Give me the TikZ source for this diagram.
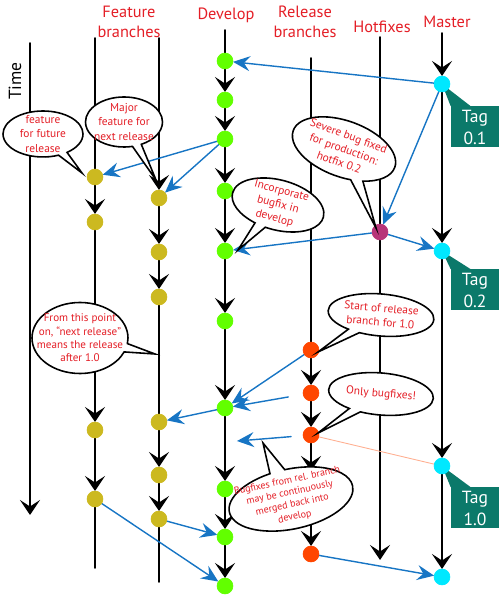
\documentclass[tikz,border=0pt]{standalone}
\usepackage{fontspec}
\setmainfont{PT Sans}
\usepackage{tkz-euclide}
\usetikzlibrary{arrows.meta,shapes.callouts,shapes.geometric}
\definecolor{DevelopClr}{rgb}{0.384,1,0}
\definecolor{FeatureClr}{rgb}{0.8,0.725,0.125}
\definecolor{ReleaseClr}{rgb}{1,0.275,0}
\definecolor{HotfixClr}{rgb}{0.718,0.204,0.475}
\definecolor{MasterClr}{rgb}{0,0.91,1}
\definecolor{MergeClr}{rgb}{0.09,0.459,0.769}
\definecolor{TagClr}{rgb}{0.043,0.475,0.416}
\definecolor{TextClr}{rgb}{0.894,0.118,0.149}
\definecolor{SalmonClr}{rgb}{1,0.686,0.569}

\begin{document}
\begin{tikzpicture}[x=.2mm,y=.2mm]
\tikzset{
  branch/.style={line width=1pt,color=black},
  commit/.style={line width=1pt,-{Stealth[length=3mm,width=4mm,inset=1.3mm]},shorten >=1.6mm},
  merge/.style={color=MergeClr,line width=.8pt,-{Stealth[length=3.4mm,width=3mm,inset=1.2mm]},shorten >=1.6mm},
  bubble/.style={ellipse callout,draw,fill=white,line width=.9pt,text=TextClr,align=center,
    inner sep=-3mm,callout pointer arc=14,font=\fontsize{6.5}{8}\selectfont},
  tag/.style={rectangle,fill=TagClr,text=white,align=center,minimum width=9.6mm,
    minimum height=8.2mm,inner sep=0pt,font=\fontsize{10}{12.5}\selectfont},
  heading/.style={text=TextClr,align=center,font=\fontsize{9.3}{11.3}\selectfont}
}
\useasboundingbox (0,0) rectangle (500,600);

\tkzDefPoints{30/557/T1,30/85/T2}
\tkzDefPoints{95/562/F0,95/423/F1,95/378/F2,95/170/F3,95/101/F4,95/32/F5}
\tkzDefPoints{159/562/G0,159/402/G1,159/348/G2,159/303/G3,159/178/G4,159/125/G5,159/81/G6,159/18/G7}
\tkzDefPoints{225/570/D0,225/539/D1,225/500/D2,225/461/D3,225/409/D4,225/349/D5,225/279/D6,
  225/192/D7,225/111/D8,225/63/D9,225/14/D10,225/158/Dm}
\tkzDefPoints{311/542/R0,311/250/R1,311/207/R2,311/165/R3,311/129/Rt,311/46/R4}
\tkzDefPoints{380/563/H0,380/368/H1,380/40/H2}
\tkzDefPoints{442/567/M0,442/516/M1,442/349/M2,442/134/M3,442/23/M4}
\tkzDefPoints{82/427/t1,156/420/t2,238/350/t3,376/372/t4,155/246/t5,318/248/t6,318/167/t7,263/157/t8}

\tkzDrawSegments[branch](F0,F1 F4,F5 G3,G4 G6,G7 D0,D1 R0,R1 H0,H1)
\tkzDrawSegments[commit,shorten >=0pt](T1,T2 H1,H2 R3,Rt)
\tkzDrawSegments[commit](F1,F2 F2,F3 F3,F4 G0,G1 G1,G2 G2,G3 G4,G5 G5,G6)
\tkzDrawSegments[commit](D1,D2 D2,D3 D3,D4 D4,D5 D5,D6 D6,D7 D7,D8 D8,D9 D9,D10)
\tkzDrawSegments[commit](R1,R2 R2,R3 Rt,R4 M0,M1 M1,M2 M2,M3 M3,M4)

\tkzDrawSegments[color=SalmonClr,line width=.5pt](R3,M3)
\tkzDrawSegments[merge](M1,D1 D3,F1 D3,G1 M1,H1 H1,D5 H1,M2 R1,D7 D7,G4 G6,D9 F4,D10 R4,M4)
\tkzDrawSegments[merge,shorten <=4.6mm](R2,D7)
\tkzDrawSegments[merge,shorten <=4mm,shorten >=2.4mm](R3,Dm)

\node[tag] (tag01) at (475,473) {Tag\\0.1};
\node[tag] (tag02) at (475,310) {Tag\\0.2};
\node[tag] (tag10) at (475,92) {Tag\\1.0};
\fill[TagClr] (tag01.north west) -- (M1) -- ([xshift=4mm]tag01.north west) -- cycle;
\fill[TagClr] (tag02.north west) -- (M2) -- ([xshift=4mm]tag02.north west) -- cycle;
\fill[TagClr] (tag10.north west) -- (M3) -- ([xshift=4mm]tag10.north west) -- cycle;

\tkzDrawPoints[size=9,color=FeatureClr,fill=FeatureClr](F1,F2,F3,F4,G1,G2,G3,G4,G5,G6)
\tkzDrawPoints[size=9,color=DevelopClr,fill=DevelopClr](D1,D2,D3,D4,D5,D6,D7,D8,D9,D10)
\tkzDrawPoints[size=9,color=ReleaseClr,fill=ReleaseClr](R1,R2,R3,R4)
\tkzDrawPoints[size=9,color=HotfixClr,fill=HotfixClr](H1)
\tkzDrawPoints[size=9,color=MasterClr,fill=MasterClr](M1,M2,M3,M4)

\node[bubble,minimum width=16mm,minimum height=9.2mm,callout absolute pointer={(t1)}] (future) at (43,466) {feature\\for future\\release};
\node[bubble,minimum width=15.4mm,minimum height=10mm,callout absolute pointer={(t2)}] (major) at (124,478) {Major\\feature for\\next release};
\node[bubble,rotate=-15,minimum width=18.8mm,minimum height=10mm,callout absolute pointer={(t3)}] (incorp) at (278,395) {Incorporate\\bugfix in\\develop};
\node[bubble,rotate=-20,minimum width=21.6mm,minimum height=11.2mm,callout absolute pointer={(t4)}] (severe) at (344,451) {Severe bug fixed\\for production:\\hotfix 0.2};
\node[bubble,minimum width=19.2mm,minimum height=14.2mm,font=\fontsize{6.3}{7.6}\selectfont,callout absolute pointer={(t5)}] (nextrel) at (80,262) {From this point\\on, “next release”\\means the release\\after 1.0};
\node[bubble,rotate=-5,minimum width=21.2mm,minimum height=8.4mm,callout absolute pointer={(t6)}] (start) at (381,285) {Start of release\\branch for 1.0};
\node[bubble,rotate=-5,minimum width=21mm,minimum height=8.4mm,callout absolute pointer={(t7)}] (only) at (381,206) {Only bugfixes!};
\node[bubble,rotate=12,minimum width=25.2mm,minimum height=12mm,font=\fontsize{5.7}{7}\selectfont,callout absolute pointer={(t8)}] (backmerge) at (291,101) {Bugfixes from rel. branch\\may be continuously\\merged back into\\develop};

\node[heading] (lblFeature) at (129,578) {Feature\\branches};
\node[heading] (lblDevelop) at (226,585) {Develop};
\node[heading] (lblRelease) at (305,578) {Release\\branches};
\node[heading] (lblHotfix) at (382,573) {Hotfixes};
\node[heading] (lblMaster) at (447,578) {Master};
\node[rotate=90,font=\fontsize{10}{12}\selectfont] (lblTime) at (15,519) {Time};
\end{tikzpicture}
\end{document}
